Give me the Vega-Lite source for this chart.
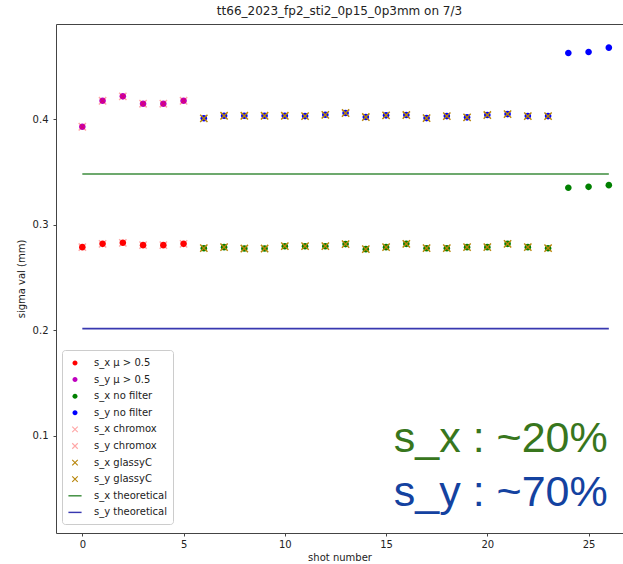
{
  "$schema": "https://vega.github.io/schema/vega-lite/v6.json",
  "width": 567,
  "height": 509,
  "autosize": {"type": "none"},
  "padding": {"left": 56, "top": 24, "right": 0, "bottom": 31},
  "background": "white",
  "title": {"text": "tt66_2023_fp2_sti2_0p15_0p3mm on 7/3", "font": "DejaVu Sans", "fontSize": 12, "fontWeight": "normal", "color": "#222", "anchor": "middle", "offset": 6},
  "config": {
    "view": {"stroke": null},
    "axis": {"grid": false, "domainColor": "#444", "domainWidth": 1, "tickColor": "#444", "tickSize": 3, "labelFont": "DejaVu Sans", "labelFontSize": 10, "labelColor": "#222", "titleFont": "DejaVu Sans", "titleFontSize": 10, "titleFontWeight": "normal", "titleColor": "#222"}
  },
  "datasets": {
    "pts": [
      {"series": "s_x μ > 0.5", "shot": 0, "sigma": 0.2787},
      {"series": "s_x μ > 0.5", "shot": 1, "sigma": 0.2818},
      {"series": "s_x μ > 0.5", "shot": 2, "sigma": 0.2828},
      {"series": "s_x μ > 0.5", "shot": 3, "sigma": 0.2806},
      {"series": "s_x μ > 0.5", "shot": 4, "sigma": 0.2806},
      {"series": "s_x μ > 0.5", "shot": 5, "sigma": 0.2818},
      {"series": "s_y μ > 0.5", "shot": 0, "sigma": 0.3927},
      {"series": "s_y μ > 0.5", "shot": 1, "sigma": 0.4173},
      {"series": "s_y μ > 0.5", "shot": 2, "sigma": 0.4215},
      {"series": "s_y μ > 0.5", "shot": 3, "sigma": 0.4145},
      {"series": "s_y μ > 0.5", "shot": 4, "sigma": 0.4145},
      {"series": "s_y μ > 0.5", "shot": 5, "sigma": 0.4173},
      {"series": "s_x no filter", "shot": 6, "sigma": 0.2777},
      {"series": "s_x no filter", "shot": 7, "sigma": 0.2787},
      {"series": "s_x no filter", "shot": 8, "sigma": 0.2774},
      {"series": "s_x no filter", "shot": 9, "sigma": 0.2774},
      {"series": "s_x no filter", "shot": 10, "sigma": 0.2796},
      {"series": "s_x no filter", "shot": 11, "sigma": 0.2796},
      {"series": "s_x no filter", "shot": 12, "sigma": 0.2796},
      {"series": "s_x no filter", "shot": 13, "sigma": 0.2816},
      {"series": "s_x no filter", "shot": 14, "sigma": 0.2768},
      {"series": "s_x no filter", "shot": 15, "sigma": 0.2787},
      {"series": "s_x no filter", "shot": 16, "sigma": 0.2818},
      {"series": "s_x no filter", "shot": 17, "sigma": 0.2777},
      {"series": "s_x no filter", "shot": 18, "sigma": 0.2777},
      {"series": "s_x no filter", "shot": 19, "sigma": 0.2787},
      {"series": "s_x no filter", "shot": 20, "sigma": 0.2787},
      {"series": "s_x no filter", "shot": 21, "sigma": 0.2818},
      {"series": "s_x no filter", "shot": 22, "sigma": 0.2787},
      {"series": "s_x no filter", "shot": 23, "sigma": 0.2777},
      {"series": "s_x no filter", "shot": 24, "sigma": 0.3349},
      {"series": "s_x no filter", "shot": 25, "sigma": 0.3358},
      {"series": "s_x no filter", "shot": 26, "sigma": 0.3374},
      {"series": "s_y no filter", "shot": 6, "sigma": 0.4007},
      {"series": "s_y no filter", "shot": 7, "sigma": 0.4031},
      {"series": "s_y no filter", "shot": 8, "sigma": 0.4031},
      {"series": "s_y no filter", "shot": 9, "sigma": 0.4031},
      {"series": "s_y no filter", "shot": 10, "sigma": 0.4031},
      {"series": "s_y no filter", "shot": 11, "sigma": 0.4028},
      {"series": "s_y no filter", "shot": 12, "sigma": 0.404},
      {"series": "s_y no filter", "shot": 13, "sigma": 0.4057},
      {"series": "s_y no filter", "shot": 14, "sigma": 0.4019},
      {"series": "s_y no filter", "shot": 15, "sigma": 0.4035},
      {"series": "s_y no filter", "shot": 16, "sigma": 0.4038},
      {"series": "s_y no filter", "shot": 17, "sigma": 0.4009},
      {"series": "s_y no filter", "shot": 18, "sigma": 0.4028},
      {"series": "s_y no filter", "shot": 19, "sigma": 0.4016},
      {"series": "s_y no filter", "shot": 20, "sigma": 0.4038},
      {"series": "s_y no filter", "shot": 21, "sigma": 0.4047},
      {"series": "s_y no filter", "shot": 22, "sigma": 0.4028},
      {"series": "s_y no filter", "shot": 23, "sigma": 0.4028},
      {"series": "s_y no filter", "shot": 24, "sigma": 0.4626},
      {"series": "s_y no filter", "shot": 25, "sigma": 0.4635},
      {"series": "s_y no filter", "shot": 26, "sigma": 0.4676},
      {"series": "s_x chromox", "shot": 0, "sigma": 0.2787},
      {"series": "s_x chromox", "shot": 1, "sigma": 0.2818},
      {"series": "s_x chromox", "shot": 2, "sigma": 0.2828},
      {"series": "s_x chromox", "shot": 3, "sigma": 0.2806},
      {"series": "s_x chromox", "shot": 4, "sigma": 0.2806},
      {"series": "s_x chromox", "shot": 5, "sigma": 0.2818},
      {"series": "s_y chromox", "shot": 0, "sigma": 0.3927},
      {"series": "s_y chromox", "shot": 1, "sigma": 0.4173},
      {"series": "s_y chromox", "shot": 2, "sigma": 0.4215},
      {"series": "s_y chromox", "shot": 3, "sigma": 0.4145},
      {"series": "s_y chromox", "shot": 4, "sigma": 0.4145},
      {"series": "s_y chromox", "shot": 5, "sigma": 0.4173},
      {"series": "s_x glassyC", "shot": 6, "sigma": 0.2777},
      {"series": "s_x glassyC", "shot": 7, "sigma": 0.2787},
      {"series": "s_x glassyC", "shot": 8, "sigma": 0.2774},
      {"series": "s_x glassyC", "shot": 9, "sigma": 0.2774},
      {"series": "s_x glassyC", "shot": 10, "sigma": 0.2796},
      {"series": "s_x glassyC", "shot": 11, "sigma": 0.2796},
      {"series": "s_x glassyC", "shot": 12, "sigma": 0.2796},
      {"series": "s_x glassyC", "shot": 13, "sigma": 0.2816},
      {"series": "s_x glassyC", "shot": 14, "sigma": 0.2768},
      {"series": "s_x glassyC", "shot": 15, "sigma": 0.2787},
      {"series": "s_x glassyC", "shot": 16, "sigma": 0.2818},
      {"series": "s_x glassyC", "shot": 17, "sigma": 0.2777},
      {"series": "s_x glassyC", "shot": 18, "sigma": 0.2777},
      {"series": "s_x glassyC", "shot": 19, "sigma": 0.2787},
      {"series": "s_x glassyC", "shot": 20, "sigma": 0.2787},
      {"series": "s_x glassyC", "shot": 21, "sigma": 0.2818},
      {"series": "s_x glassyC", "shot": 22, "sigma": 0.2787},
      {"series": "s_x glassyC", "shot": 23, "sigma": 0.2777},
      {"series": "s_y glassyC", "shot": 6, "sigma": 0.4007},
      {"series": "s_y glassyC", "shot": 7, "sigma": 0.4031},
      {"series": "s_y glassyC", "shot": 8, "sigma": 0.4031},
      {"series": "s_y glassyC", "shot": 9, "sigma": 0.4031},
      {"series": "s_y glassyC", "shot": 10, "sigma": 0.4031},
      {"series": "s_y glassyC", "shot": 11, "sigma": 0.4028},
      {"series": "s_y glassyC", "shot": 12, "sigma": 0.404},
      {"series": "s_y glassyC", "shot": 13, "sigma": 0.4057},
      {"series": "s_y glassyC", "shot": 14, "sigma": 0.4019},
      {"series": "s_y glassyC", "shot": 15, "sigma": 0.4035},
      {"series": "s_y glassyC", "shot": 16, "sigma": 0.4038},
      {"series": "s_y glassyC", "shot": 17, "sigma": 0.4009},
      {"series": "s_y glassyC", "shot": 18, "sigma": 0.4028},
      {"series": "s_y glassyC", "shot": 19, "sigma": 0.4016},
      {"series": "s_y glassyC", "shot": 20, "sigma": 0.4038},
      {"series": "s_y glassyC", "shot": 21, "sigma": 0.4047},
      {"series": "s_y glassyC", "shot": 22, "sigma": 0.4028},
      {"series": "s_y glassyC", "shot": 23, "sigma": 0.4028}
    ],
    "lines": [
      {"series": "s_x theoretical", "shot": 0, "sigma": 0.348},
      {"series": "s_x theoretical", "shot": 26, "sigma": 0.348},
      {"series": "s_y theoretical", "shot": 0, "sigma": 0.2015},
      {"series": "s_y theoretical", "shot": 26, "sigma": 0.2015}
    ],
    "notes": [
      {"label": "s_x : ~20%", "axisname": "x", "shot": 15.38, "sigma": 0.0847},
      {"label": "s_y : ~70%", "axisname": "y", "shot": 15.38, "sigma": 0.0336}
    ]
  },
  "layer": [
    {
      "data": {"name": "pts"},
      "mark": {"type": "point", "filled": true, "size": 302, "opacity": 1, "strokeWidth": 0},
      "encoding": {
        "x": {"field": "shot", "type": "quantitative", "scale": {"domain": [-1.3, 26.7], "nice": false, "zero": false},
              "axis": {"orient": "bottom", "values": [0, 5, 10, 15, 20, 25], "title": "shot number", "labelPadding": 3, "titlePadding": 3}},
        "y": {"field": "sigma", "type": "quantitative", "scale": {"domain": [0.008, 0.49], "nice": false, "zero": false},
              "axis": {"values": [0.1, 0.2, 0.3, 0.4], "format": ".1f", "title": "sigma val (mm)", "labelPadding": 5, "titlePadding": 6}},
        "color": {"field": "series", "type": "nominal", "sort": null,
          "scale": {"domain": ["s_x μ > 0.5", "s_y μ > 0.5", "s_x no filter", "s_y no filter", "s_x chromox", "s_y chromox", "s_x glassyC", "s_y glassyC", "s_x theoretical", "s_y theoretical"],
                    "range": ["#ff0000", "#bf00bf", "#008000", "#0000ff", "rgba(255,0,0,0.35)", "rgba(255,0,0,0.35)", "#b8860b", "#b8860b", "#3c8c3c", "#3838b0"]},
          "legend": {"title": null, "orient": "none", "legendX": 6, "legendY": 326, "direction": "vertical",
            "padding": 6, "strokeColor": "#cccccc", "fillColor": "white", "cornerRadius": 3,
            "labelFont": "DejaVu Sans", "labelFontSize": 10, "labelColor": "#222", "labelOffset": 12, "rowPadding": 4.6,
            "symbolSize": 173,
            "encode": {"symbols": {"update": {
              "fill": {"scale": "color", "field": "value"},
              "shape": {"scale": "shape", "field": "value"},
              "stroke": {"value": "transparent"},
              "strokeWidth": {"value": 0},
              "size": {"value": 173},
              "opacity": {"value": 1}
            }}}}},
        "shape": {"field": "series", "type": "nominal", "sort": null,
          "scale": {"domain": ["s_x μ > 0.5", "s_y μ > 0.5", "s_x no filter", "s_y no filter", "s_x chromox", "s_y chromox", "s_x glassyC", "s_y glassyC", "s_x theoretical", "s_y theoretical"],
                    "range": [
                      "M-0.38,0A0.38,0.38 0 1,0 0.38,0A0.38,0.38 0 1,0 -0.38,0Z",
                      "M-0.38,0A0.38,0.38 0 1,0 0.38,0A0.38,0.38 0 1,0 -0.38,0Z",
                      "M-0.38,0A0.38,0.38 0 1,0 0.38,0A0.38,0.38 0 1,0 -0.38,0Z",
                      "M-0.38,0A0.38,0.38 0 1,0 0.38,0A0.38,0.38 0 1,0 -0.38,0Z",
                      "M-0.36,-0.48L0.48,0.36L0.36,0.48L-0.48,-0.36ZM0.36,-0.48L0.48,-0.36L-0.36,0.48L-0.48,0.36Z",
                      "M-0.36,-0.48L0.48,0.36L0.36,0.48L-0.48,-0.36ZM0.36,-0.48L0.48,-0.36L-0.36,0.48L-0.48,0.36Z",
                      "M-0.36,-0.48L0.48,0.36L0.36,0.48L-0.48,-0.36ZM0.36,-0.48L0.48,-0.36L-0.36,0.48L-0.48,0.36Z",
                      "M-0.36,-0.48L0.48,0.36L0.36,0.48L-0.48,-0.36ZM0.36,-0.48L0.48,-0.36L-0.36,0.48L-0.48,0.36Z",
                      "M-1,-0.11L1,-0.11L1,0.11L-1,0.11Z",
                      "M-1,-0.11L1,-0.11L1,0.11L-1,0.11Z"
                    ]},
          "legend": {"title": null}}
      }
    },
    {
      "data": {"name": "lines"},
      "mark": {"type": "line", "strokeWidth": 1.6},
      "encoding": {
        "x": {"field": "shot", "type": "quantitative", "scale": {"domain": [-1.3, 26.7], "nice": false, "zero": false},
              "axis": {"orient": "top", "labels": false, "ticks": false, "title": null, "domain": true}},
        "y": {"field": "sigma", "type": "quantitative", "scale": {"domain": [0.008, 0.49], "nice": false, "zero": false},
              "axis": {"values": [0.1, 0.2, 0.3, 0.4], "format": ".1f", "title": "sigma val (mm)", "labelPadding": 5, "titlePadding": 6}},
        "color": {"field": "series", "type": "nominal", "sort": null,
          "scale": {"domain": ["s_x μ > 0.5", "s_y μ > 0.5", "s_x no filter", "s_y no filter", "s_x chromox", "s_y chromox", "s_x glassyC", "s_y glassyC", "s_x theoretical", "s_y theoretical"],
                    "range": ["#ff0000", "#bf00bf", "#008000", "#0000ff", "rgba(255,0,0,0.35)", "rgba(255,0,0,0.35)", "#b8860b", "#b8860b", "#3c8c3c", "#3838b0"]},
          "legend": {"title": null, "orient": "none", "legendX": 6, "legendY": 326, "direction": "vertical",
            "padding": 6, "strokeColor": "#cccccc", "fillColor": "white", "cornerRadius": 3,
            "labelFont": "DejaVu Sans", "labelFontSize": 10, "labelColor": "#222", "labelOffset": 12, "rowPadding": 4.6,
            "symbolSize": 173,
            "encode": {"symbols": {"update": {
              "fill": {"scale": "color", "field": "value"},
              "shape": {"scale": "shape", "field": "value"},
              "stroke": {"value": "transparent"},
              "strokeWidth": {"value": 0},
              "size": {"value": 173},
              "opacity": {"value": 1}
            }}}}}
      }
    },
    {
      "data": {"name": "notes"},
      "transform": [{"filter": "datum.axisname == 'x'"}],
      "mark": {"type": "text", "font": "Liberation Sans", "fontSize": 43, "align": "left", "baseline": "alphabetic", "color": "#38761d"},
      "encoding": {
        "x": {"field": "shot", "type": "quantitative", "axis": null},
        "y": {"field": "sigma", "type": "quantitative", "axis": {"values": [0.1, 0.2, 0.3, 0.4], "format": ".1f", "title": "sigma val (mm)", "labelPadding": 5, "titlePadding": 6}},
        "text": {"field": "label"}
      }
    },
    {
      "data": {"name": "notes"},
      "transform": [{"filter": "datum.axisname == 'y'"}],
      "mark": {"type": "text", "font": "Liberation Sans", "fontSize": 43, "align": "left", "baseline": "alphabetic", "color": "#1442a0"},
      "encoding": {
        "x": {"field": "shot", "type": "quantitative", "axis": null},
        "y": {"field": "sigma", "type": "quantitative", "axis": {"values": [0.1, 0.2, 0.3, 0.4], "format": ".1f", "title": "sigma val (mm)", "labelPadding": 5, "titlePadding": 6}},
        "text": {"field": "label"}
      }
    }
  ],
  "resolve": {"axis": {"x": "independent"}}
}
